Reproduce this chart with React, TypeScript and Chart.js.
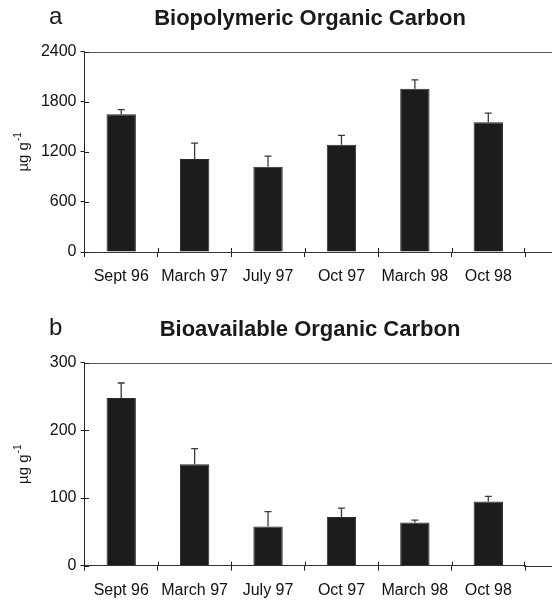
import React, { useEffect, useRef } from 'react';
import { Chart, registerables } from 'chart.js';

Chart.register(...registerables);

const categories = ['Sept 96', 'March 97', 'July 97', 'Oct 97', 'March 98', 'Oct 98'];
const biopolymericValues = [1650, 1115, 1020, 1285, 1955, 1555];
const biopolymericErrors = [55, 190, 128, 112, 108, 108];
const bioavailableValues = [248, 150, 58, 72, 64, 95];
const bioavailableErrors = [22, 23, 22, 13, 3.5, 7.5];
const biopolymericTicks = [0, 600, 1200, 1800, 2400];
const bioavailableTicks = [0, 100, 200, 300];

const FONT = '"Liberation Sans", Arial, sans-serif';
const W = 552;
const H = 301;
const AXIS_LEFT = 84.5;
const AREA_RIGHT = 525;

type PanelProps = {
  letter: string;
  title: string;
  values: number[];
  errors: number[];
  ticks: number[];
  areaTop: number;
  areaBottom: number;
  letterBaseline: number;
  titleBaseline: number;
  top: number;
};

function Panel(p: PanelProps) {
  const ref = useRef<HTMLCanvasElement | null>(null);
  useEffect(() => {
    const canvas = ref.current;
    if (!canvas) return;
    const decor = {
      id: 'decor',
      afterDatasetsDraw(chart: any) {
        const ctx = chart.ctx;
        const y = chart.scales.y;
        const x = chart.scales.x;
        const meta = chart.getDatasetMeta(0);
        ctx.save();
        // error bars (upper whisker only)
        ctx.strokeStyle = '#3a3a3a';
        ctx.lineWidth = 1.3;
        meta.data.forEach((bar: any, i: number) => {
          const v = p.values[i];
          const e = p.errors[i];
          const yTop = y.getPixelForValue(v);
          const yErr = y.getPixelForValue(v + e);
          ctx.beginPath();
          ctx.moveTo(bar.x, yTop);
          ctx.lineTo(bar.x, yErr);
          ctx.moveTo(bar.x - 3.5, yErr);
          ctx.lineTo(bar.x + 3.5, yErr);
          ctx.stroke();
        });
        const area = chart.chartArea;
        // top border, running to the edge of the figure
        ctx.lineWidth = 1;
        ctx.strokeStyle = '#555';
        ctx.beginPath();
        ctx.moveTo(area.left, Math.round(area.top) + 0.5);
        ctx.lineTo(W, Math.round(area.top) + 0.5);
        ctx.stroke();
        // category axis line continued to the edge
        ctx.strokeStyle = '#333';
        ctx.beginPath();
        ctx.moveTo(area.right - 1, Math.round(area.bottom) + 0.5);
        ctx.lineTo(W, Math.round(area.bottom) + 0.5);
        ctx.stroke();
        // inward parts of tick marks
        ctx.strokeStyle = '#222';
        ctx.beginPath();
        p.ticks.forEach((t) => {
          const py = Math.round(y.getPixelForValue(t)) + 0.5;
          ctx.moveTo(area.left, py);
          ctx.lineTo(area.left + 4.5, py);
        });
        for (let i = 1; i <= categories.length; i++) {
          const px =
            i < categories.length
              ? Math.round((x.getPixelForValue(i - 1) + x.getPixelForValue(i)) / 2) + 0.5
              : Math.round(area.right) - 0.5;
          ctx.moveTo(px, area.bottom);
          ctx.lineTo(px, area.bottom - 4);
        }
        ctx.stroke();
        ctx.restore();
      },
      afterDraw(chart: any) {
        const ctx = chart.ctx;
        const area = chart.chartArea;
        ctx.save();
        ctx.fillStyle = '#1a1a1a';
        ctx.textBaseline = 'alphabetic';
        ctx.textAlign = 'left';
        ctx.font = `24px ${FONT}`;
        ctx.fillText(p.letter, 49, p.letterBaseline);
        ctx.textAlign = 'center';
        ctx.font = `bold 22px ${FONT}`;
        ctx.fillText(p.title, 310, p.titleBaseline);
        // y axis title with superscript
        const cy = (area.top + area.bottom) / 2;
        ctx.translate(28, cy);
        ctx.rotate(-Math.PI / 2);
        ctx.textAlign = 'left';
        ctx.font = `15px ${FONT}`;
        const main = 'µg g';
        const mw = ctx.measureText(main).width;
        ctx.font = `10px ${FONT}`;
        const sup = '-1';
        const sw = ctx.measureText(sup).width;
        const start = -(mw + sw + 1) / 2;
        ctx.font = `15px ${FONT}`;
        ctx.fillText(main, start, 0);
        ctx.font = `10px ${FONT}`;
        ctx.fillText(sup, start + mw + 1, -7);
        ctx.restore();
      },
    };
    const chart = new Chart(canvas, {
      type: 'bar',
      data: {
        labels: categories,
        datasets: [
          {
            data: p.values,
            backgroundColor: '#1c1c1c',
            borderColor: '#2a2a2a',
            borderWidth: 1,
            barPercentage: 0.4,
            categoryPercentage: 1,
          },
        ],
      },
      options: {
        animation: false,
        responsive: false,
        devicePixelRatio: 1,
        layout: { padding: { top: p.areaTop, right: W - AREA_RIGHT, left: 0, bottom: 0 } },
        plugins: { legend: { display: false }, tooltip: { enabled: false }, title: { display: false } },
        scales: {
          x: {
            grid: { display: true, drawOnChartArea: false, offset: true, tickLength: 5, color: '#222' },
            border: { display: true, color: '#333', width: 1 },
            ticks: { color: '#111', font: { family: FONT, size: 16 }, padding: 10, maxRotation: 0, autoSkip: false },
            afterFit: (s: any) => {
              s.height = H - p.areaBottom;
            },
          },
          y: {
            min: p.ticks[0],
            max: p.ticks[p.ticks.length - 1],
            afterBuildTicks: (s: any) => {
              s.ticks = p.ticks.map((v) => ({ value: v }));
            },
            grid: { display: true, drawOnChartArea: false, tickLength: 4, color: '#222' },
            border: { display: true, color: '#222', width: 1 },
            ticks: {
              color: '#111',
              font: { family: FONT, size: 16 },
              padding: 4,
              callback: (v: any) => String(v),
            },
            afterFit: (s: any) => {
              s.width = AXIS_LEFT;
            },
          },
        },
      },
      plugins: [decor],
    });
    return () => chart.destroy();
  }, []);
  return (
    <canvas
      ref={ref}
      width={W}
      height={H}
      style={{ position: 'absolute', left: 0, top: p.top, width: W, height: H }}
    />
  );
}

export default function App() {
  useEffect(() => {
    document.body.style.margin = '0';
    document.body.style.background = '#fff';
  }, []);
  return (
    <div style={{ position: 'relative', width: W, height: 602, background: '#fff', overflow: 'hidden' }}>
      <Panel
        letter="a"
        title="Biopolymeric Organic Carbon"
        values={biopolymericValues}
        errors={biopolymericErrors}
        ticks={biopolymericTicks}
        areaTop={51.7}
        areaBottom={252}
        letterBaseline={24}
        titleBaseline={25}
        top={0}
      />
      <Panel
        letter="b"
        title="Bioavailable Organic Carbon"
        values={bioavailableValues}
        errors={bioavailableErrors}
        ticks={bioavailableTicks}
        areaTop={61.7}
        areaBottom={264.7}
        letterBaseline={34}
        titleBaseline={35}
        top={301}
      />
    </div>
  );
}
